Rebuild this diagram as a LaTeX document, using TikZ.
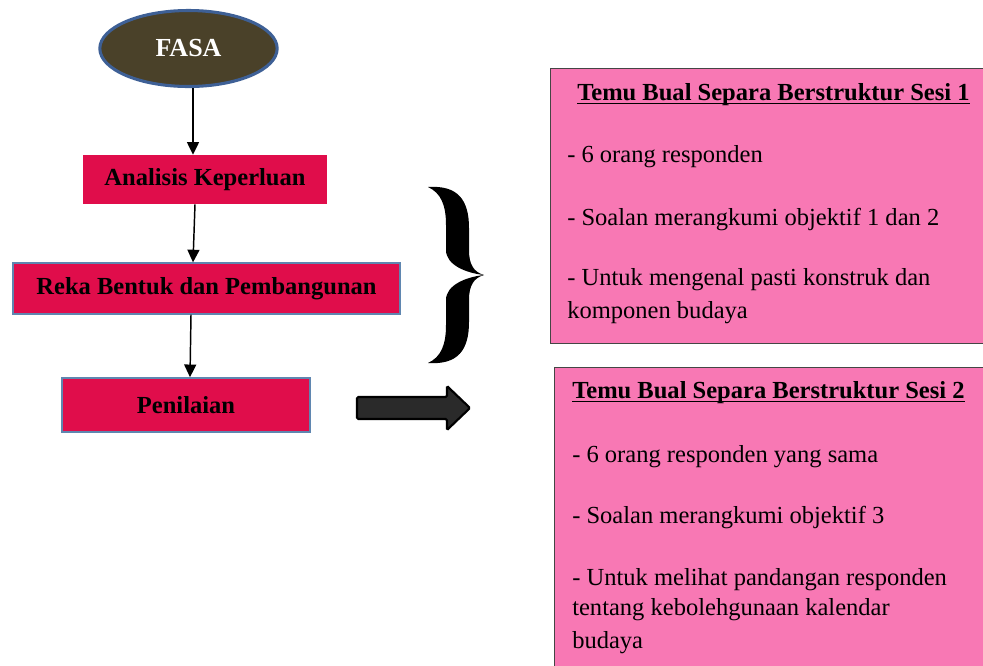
\documentclass[tikz,border=0pt]{standalone}
\usepackage{fontspec}
\setmainfont{Liberation Serif}
\usetikzlibrary{shapes.geometric,arrows.meta,calc}
\definecolor{crimson}{HTML}{E00D4B}
\definecolor{pinkbox}{HTML}{F878B4}
\definecolor{olivefill}{HTML}{4A4129}
\definecolor{ringblue}{HTML}{3E6096}
\definecolor{edgeblue}{HTML}{5F86B0}
\definecolor{arrowfill}{HTML}{2A2A2A}
\definecolor{boxedge}{HTML}{454545}
\begin{document}
\begin{tikzpicture}[x=0.75pt,y=-0.75pt,
  txt/.style={inner sep=0pt, font=\fontsize{18.4}{23}\selectfont},
  ttl/.style={inner sep=0pt, font=\fontsize{18.4}{23}\selectfont\bfseries},
  stage/.style={rectangle, fill=crimson, inner sep=0pt, font=\fontsize{18.4}{23}\selectfont\bfseries},
  framed/.style={draw=edgeblue, line width=1.2pt},
  infobox/.style={rectangle, fill=pinkbox, draw=boxedge, line width=1.1pt, inner sep=0pt},
  flow/.style={line width=1.1pt, -{Triangle[length=9.5pt,width=9pt]}},
  uline/.style={line width=1.4pt}
]
\useasboundingbox (0,0) rectangle (983,665);
\clip (0,0) rectangle (983,665);

% phase ellipse
\node[ellipse, fill=olivefill, draw=ringblue, line width=2.3pt, minimum width=133pt, minimum height=57pt, inner sep=0pt,
      text=white, font=\fontsize{19.5}{23}\selectfont\bfseries] (fasa) at (188.5,48.5) {FASA};

% stages
\node[stage, minimum width=183pt, minimum height=36.75pt] (ana) at (205,179.5) {Analisis Keperluan};
\node[stage, framed, minimum width=290pt, minimum height=38pt] (reka) at (206.5,288.5) {Reka Bentuk dan Pembangunan};
\node[stage, framed, minimum width=186pt, minimum height=40.5pt] (nilai) at (186,405) {Penilaian};

\draw[flow] ($(fasa.south)+(4.5,0)$) -- ($(ana.north)+(-12,0)$);
\draw[flow] ($(ana.south)+(-10,0)$) -- ($(reka.north)+(-13.5,0)$);
\draw[flow] ($(reka.south)+(-15.5,0)$) -- ($(nilai.north)+(4,0)$);

% brace
\fill[black] (428,187) .. controls (458,185) and (469,200) .. (469,228)
  -- (469,250)
  .. controls (469,265) and (474,272) .. (484,275)
  .. controls (474,278) and (469,285) .. (469,300)
  -- (469,322)
  .. controls (469,350) and (458,365) .. (428,363)
  .. controls (441,357) and (446,345) .. (446,325)
  -- (446,300)
  .. controls (446,285) and (466,277) .. (484,275)
  .. controls (466,273) and (446,265) .. (446,250)
  -- (446,225)
  .. controls (446,205) and (441,193) .. (428,187) -- cycle;

% block arrow
\filldraw[fill=arrowfill, draw=black, line width=1.6pt, rounded corners=1pt]
  (357,397) -- (447,397) -- (447,386) -- (470,408) -- (447,430) -- (447,419) -- (357,419) -- cycle;

% info box 1
\node[infobox, minimum width=330pt, minimum height=206.25pt, anchor=north west] (box1) at (550,68) {};
\node[ttl, anchor=base west] (t1) at (577,100) {Temu Bual Separa Berstruktur Sesi 1};
\draw[uline] ($(t1.base west)+(0,3.5)$) -- ($(t1.base east)+(0,3.5)$);
\node[txt, anchor=base west] (a1) at (567,162) {- 6 orang responden};
\node[txt, anchor=base west] (a2) at (567,225) {- Soalan merangkumi objektif 1 dan 2};
\node[txt, anchor=base west] (a3) at (567,285) {- Untuk mengenal pasti konstruk dan};
\node[txt, anchor=base west] (a4) at (567,318) {komponen budaya};

% info box 2
\node[infobox, minimum width=330pt, minimum height=240pt, anchor=north west] (box2) at (554,367) {};
\node[ttl, anchor=base west] (t2) at (572,398) {Temu Bual Separa Berstruktur Sesi 2};
\draw[uline] ($(t2.base west)+(0,3.5)$) -- ($(t2.base east)+(0,3.5)$);
\node[txt, anchor=base west] (b1) at (572,462) {- 6 orang responden yang sama};
\node[txt, anchor=base west] (b2) at (572,523) {- Soalan merangkumi objektif 3};
\node[txt, anchor=base west] (b3) at (572,585) {- Untuk melihat pandangan responden};
\node[txt, anchor=base west] (b4) at (572,615) {tentang kebolehgunaan kalendar};
\node[txt, anchor=base west] (b5) at (572,648) {budaya};
\end{tikzpicture}
\end{document}
